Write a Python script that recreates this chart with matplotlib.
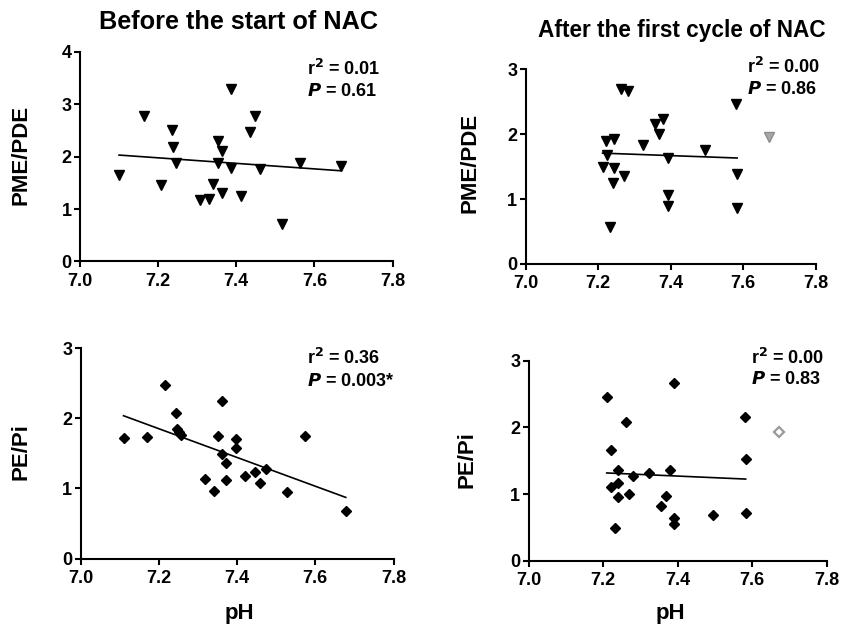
import numpy as np
import matplotlib
matplotlib.use("Agg")
import matplotlib.pyplot as plt

plt.rcParams['font.family'] = ['Liberation Sans', 'DejaVu Sans']
plt.rcParams['font.weight'] = 'bold'

# ---- data: Before NAC, PME/PDE ----
before_pme_ph = [7.100, 7.163, 7.207, 7.235, 7.237, 7.246, 7.308, 7.329, 7.341, 7.353, 7.353,
                 7.364, 7.364, 7.387, 7.387, 7.411, 7.435, 7.449, 7.462, 7.518, 7.563, 7.667]
before_pme_val = [1.65, 2.77, 1.46, 2.51, 2.19, 1.88, 1.17, 1.20, 1.48, 2.30, 1.88,
                  2.10, 1.30, 3.29, 1.79, 1.25, 2.47, 2.78, 1.77, 0.71, 1.88, 1.82]

# ---- data: After first cycle, PME/PDE ----
after_pme_ph = [7.221, 7.243, 7.223, 7.212, 7.243, 7.242, 7.272, 7.232, 7.262, 7.282, 7.323,
                7.357, 7.379, 7.368, 7.392, 7.392, 7.392, 7.494, 7.580, 7.583, 7.583]
after_pme_val = [1.90, 1.92, 1.68, 1.49, 1.48, 1.25, 1.35, 0.57, 2.69, 2.67, 1.83,
                 2.15, 2.23, 2.01, 1.64, 1.06, 0.89, 1.76, 2.47, 1.39, 0.87]
after_pme_excl_ph = [7.670]
after_pme_excl_val = [1.95]

# ---- data: Before NAC, PE/Pi ----
before_pe_ph = [7.110, 7.171, 7.217, 7.244, 7.246, 7.251, 7.258, 7.317, 7.340, 7.352, 7.362, 7.362,
                7.373, 7.373, 7.398, 7.398, 7.421, 7.447, 7.459, 7.473, 7.529, 7.575, 7.678]
before_pe_val = [1.72, 1.73, 2.47, 2.08, 1.85, 1.81, 1.76, 1.13, 0.96, 1.75, 2.25, 1.49,
                 1.36, 1.12, 1.70, 1.57, 1.18, 1.24, 1.08, 1.28, 0.95, 1.75, 0.68]

# ---- data: After first cycle, PE/Pi ----
after_pe_ph = [7.210, 7.221, 7.221, 7.231, 7.241, 7.241, 7.241, 7.261, 7.271, 7.280, 7.324,
               7.356, 7.368, 7.380, 7.391, 7.391, 7.391, 7.494, 7.581, 7.583, 7.583]
after_pe_val = [2.46, 1.66, 1.11, 0.49, 1.36, 1.17, 0.96, 2.08, 1.00, 1.27, 1.31,
                0.82, 0.97, 1.36, 2.67, 0.64, 0.55, 0.68, 2.15, 1.52, 0.71]
after_pe_excl_ph = [7.672]
after_pe_excl_val = [1.93]

titles = ["Before the start of NAC", "After the first cycle of NAC"]
stats = [["r$^{2}$ = 0.01", "$\\bfit{P}$ = 0.61"],
         ["r$^{2}$ = 0.00", "$\\bfit{P}$ = 0.86"],
         ["r$^{2}$ = 0.36", "$\\bfit{P}$ = 0.003*"],
         ["r$^{2}$ = 0.00", "$\\bfit{P}$ = 0.83"]]
xticks = [7.0, 7.2, 7.4, 7.6, 7.8]

W, H = 841, 629
fig = plt.figure(figsize=(W / 100, H / 100), dpi=100)


def rect(l, r, b, t):
    return [l / W, 1 - b / H, (r - l) / W, (b - t) / H]


axes_px = [(80, 392.5, 261.5, 51.7),
           (525.7, 815.8, 264, 69.3),
           (80.5, 393.5, 558.5, 348.3),
           (528.5, 826.5, 560.7, 360.7)]

ymaxes = [4, 3, 3, 3]
datasets = [(before_pme_ph, before_pme_val, None, None, 'v'),
            (after_pme_ph, after_pme_val, after_pme_excl_ph, after_pme_excl_val, 'v'),
            (before_pe_ph, before_pe_val, None, None, 'D'),
            (after_pe_ph, after_pe_val, after_pe_excl_ph, after_pe_excl_val, 'D')]
stat_pos = [(307, 69, 92), (747, 67, 89), (307, 358, 382), (751, 358, 380)]

for i, (px, ymax, ds, sp) in enumerate(zip(axes_px, ymaxes, datasets, stat_pos)):
    ax = fig.add_axes(rect(*px))
    xs, ys, exs, eys, mk = ds
    ms = 7.0 if mk == 'v' else 5.6
    ax.plot(xs, ys, linestyle='none', marker=mk, ms=ms, color='black', clip_on=False)
    if exs is not None:
        if mk == 'v':
            ax.plot(exs, eys, linestyle='none', marker=mk, ms=ms, markerfacecolor='#a8a8a8',
                    markeredgecolor='#8c8c8c', clip_on=False)
        else:
            ax.plot(exs, eys, linestyle='none', marker=mk, ms=ms - 1.0, markerfacecolor='white',
                    markeredgecolor='#999999', markeredgewidth=1.6, clip_on=False)
    x = np.array(xs)
    y = np.array(ys)
    k, b = np.polyfit(x, y, 1)
    xl = np.array([x.min(), x.max()])
    ax.plot(xl, k * xl + b, color='black', lw=1.2)

    ax.set_xlim(7.0, 7.8)
    ax.set_ylim(0, ymax)
    ax.set_xticks(xticks)
    ax.set_xticklabels([f"{t:.1f}" for t in xticks])
    ax.set_yticks(range(0, ymax + 1))
    for s in ['top', 'right']:
        ax.spines[s].set_visible(False)
    for s in ['left', 'bottom']:
        ax.spines[s].set_linewidth(1.5)
    ax.tick_params(axis='both', direction='out', length=4, width=1.5, labelsize=13)
    ax.tick_params(axis='x', pad=4)
    ax.tick_params(axis='y', pad=2)
    for lab in ax.get_xticklabels() + ax.get_yticklabels():
        lab.set_fontweight('bold')

    fig.text(sp[0] / W, 1 - sp[1] / H, stats[i][0], fontsize=13, fontweight='bold',
             ha='left', va='center')
    fig.text(sp[0] / W, 1 - sp[2] / H, stats[i][1], fontsize=13, fontweight='bold',
             ha='left', va='center')

# titles
fig.text(238 / W, 1 - 22 / H, titles[0], fontsize=18.2, fontweight='bold', ha='center', va='center')
fig.text(682 / W, 1 - 30 / H, titles[1], fontsize=16.3, fontweight='bold', ha='center', va='center')

# y labels
fig.text(21 / W, 1 - 155 / H, "PME/PDE", fontsize=16, fontweight='bold', rotation=90,
         ha='center', va='center')
fig.text(470 / W, 1 - 163 / H, "PME/PDE", fontsize=16, fontweight='bold', rotation=90,
         ha='center', va='center')
fig.text(21 / W, 1 - 452 / H, "PE/Pi", fontsize=16, fontweight='bold', rotation=90,
         ha='center', va='center')
fig.text(467 / W, 1 - 460 / H, "PE/Pi", fontsize=16, fontweight='bold', rotation=90,
         ha='center', va='center')

# x labels
fig.text(239 / W, 1 - 614 / H, "pH", fontsize=16, fontweight='bold', ha='center', va='center')
fig.text(670 / W, 1 - 614 / H, "pH", fontsize=16, fontweight='bold', ha='center', va='center')

fig.savefig("out.png", dpi=100)
